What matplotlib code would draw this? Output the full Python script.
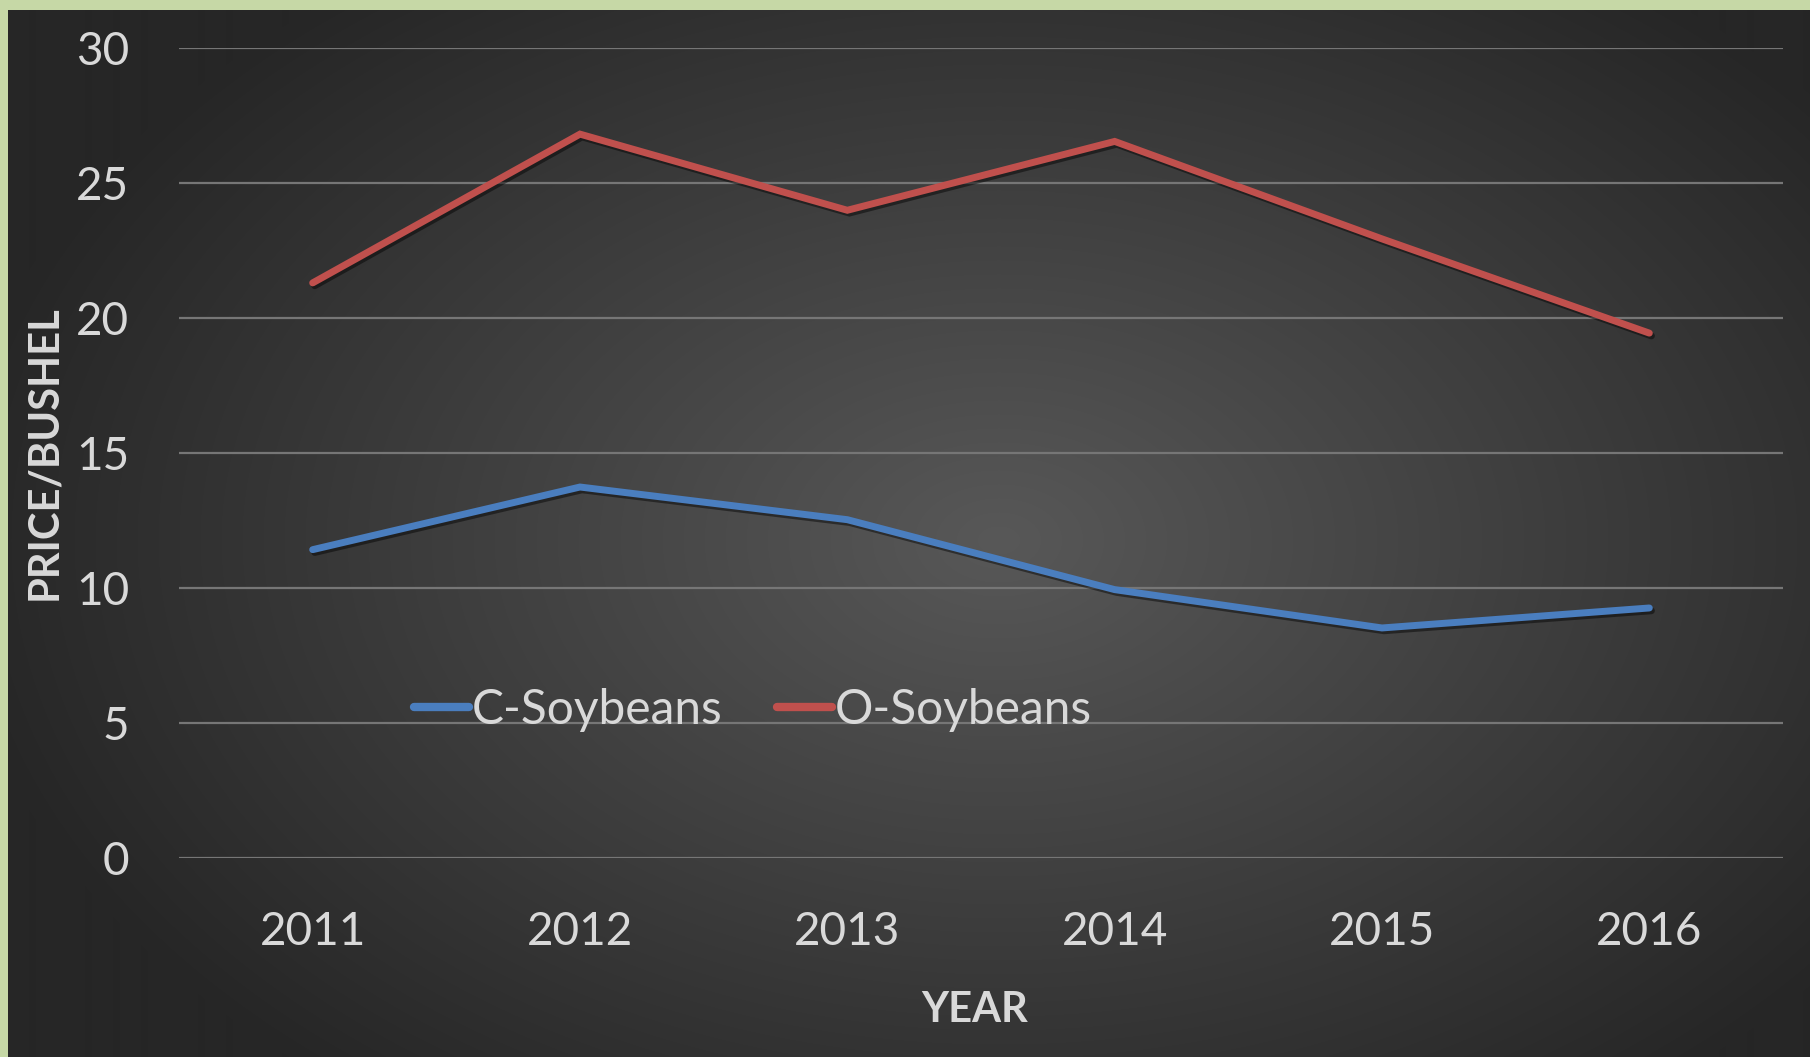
import numpy as np
import matplotlib
matplotlib.use('Agg')
import matplotlib.pyplot as plt
import matplotlib.patheffects as pe

# data
years = ['2011', '2012', '2013', '2014', '2015', '2016']
c_soy = [11.42, 13.74, 12.53, 9.94, 8.52, 9.26]
o_soy = [21.30, 26.81, 23.99, 26.54, 22.93, 19.44]
y_ticks = [0, 5, 10, 15, 20, 25, 30]

W, H = 1810, 1057
fig = plt.figure(figsize=(W / 100, H / 100), dpi=100)
fig.patch.set_facecolor('#c6d8a6')

# dark panel with radial gradient
bg = fig.add_axes([8 / W, 0, 1 - 8 / W, 1 - 10 / H])
gx, gy = np.meshgrid(np.arange(W - 8), np.arange(H - 10))
cx, cy = 990, 530
r = np.sqrt(((gx - cx) / 1050.0) ** 2 + ((gy - cy) / 700.0) ** 2)
r = np.clip(r, 0, 1)
light = np.array([0x58, 0x58, 0x58]) / 255
dark = np.array([0x26, 0x26, 0x26]) / 255
img = light[None, None, :] * (1 - r[..., None]) + dark[None, None, :] * r[..., None]
bg.imshow(img, aspect='auto', interpolation='bilinear')
bg.axis('off')

ax = fig.add_axes([179 / W, 1 - 858 / H, (1783 - 179) / W, (858 - 48) / H])
ax.set_facecolor('none')

x = np.arange(len(years))
shadow = [pe.SimpleLineShadow(offset=(1.5, -2), shadow_color='black', alpha=0.45), pe.Normal()]
ax.plot(x, c_soy, color='#4a7ebf', lw=5, solid_capstyle='round', solid_joinstyle='miter',
        label='C-Soybeans', path_effects=shadow, zorder=3)
ax.plot(x, o_soy, color='#c0504d', lw=5, solid_capstyle='round', solid_joinstyle='miter',
        label='O-Soybeans', path_effects=shadow, zorder=3)

ax.set_xlim(-0.5, len(years) - 0.5)
ax.set_ylim(0, 30)
ax.set_yticks(y_ticks)
ax.set_xticks(x)
ax.set_xticklabels(years)
ax.yaxis.grid(True, color='#767676', lw=1.6)
ax.set_axisbelow(True)
for s in ax.spines.values():
    s.set_visible(False)

txt = '#d9d9d9'
font = 'Lato'
ax.tick_params(length=0, labelsize=33, labelcolor=txt)
ax.tick_params(axis='y', pad=36)
ax.tick_params(axis='x', pad=38)
for lab in ax.get_xticklabels() + ax.get_yticklabels():
    lab.set_fontfamily(font)

fig.text(975 / W, 1 - 1010 / H, 'YEAR', ha='center', va='center', fontsize=30,
         fontweight='bold', color=txt, family=font)
fig.text(44 / W, 1 - 453 / H, 'PRICE/BUSHEL', ha='center', va='center', fontsize=30,
         fontweight='bold', color=txt, family=font, rotation=90)

leg = ax.legend(loc='center left', bbox_to_anchor=((390 - 179) / 1604, (858 - 710) / 810),
                ncol=2, frameon=False, borderpad=0, handlelength=1.15, handletextpad=0.05,
                columnspacing=1.15, prop={'family': font, 'size': 34.5})
for t in leg.get_texts():
    t.set_color(txt)
for h in leg.get_lines():
    h.set_path_effects([])
    h.set_linewidth(6)

fig.savefig('out.png', dpi=100, facecolor=fig.get_facecolor())
